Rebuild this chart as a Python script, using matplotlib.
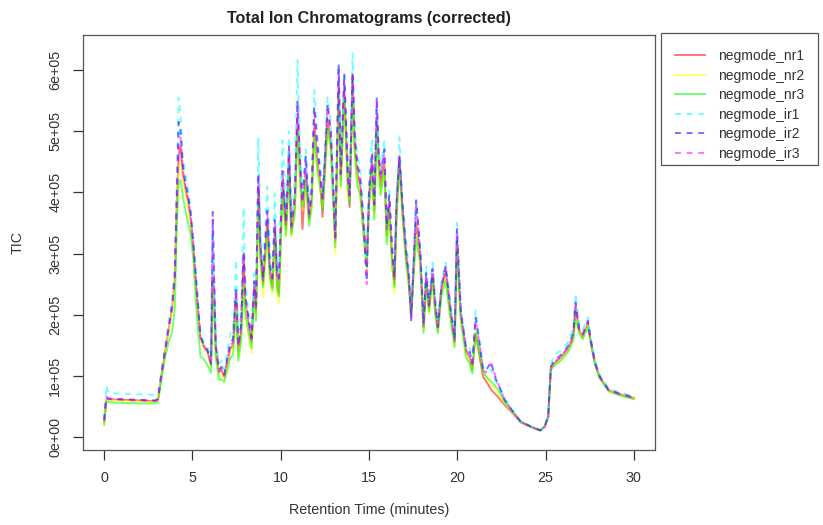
import matplotlib
matplotlib.use("Agg")
import matplotlib.pyplot as plt
from matplotlib.patches import Rectangle

plt.rcParams['font.family'] = ['Liberation Sans', 'DejaVu Sans']

rt = [0.00, 0.12, 0.25, 1.0, 2.0, 2.9, 3.05, 3.25, 3.45, 3.65, 3.85, 4.0, 4.12, 4.22, 4.32,
      4.45, 4.6, 4.75, 4.9, 5.05, 5.25, 5.45, 5.65, 5.85, 6.05, 6.15, 6.22, 6.32, 6.5, 6.65,
      6.8, 7.0, 7.15, 7.3, 7.47, 7.6, 7.75, 7.9, 8.0, 8.15, 8.35, 8.5, 8.6, 8.73, 8.85,
      9.0, 9.24, 9.38, 9.53, 9.66, 9.8, 9.9, 10.1, 10.3, 10.47, 10.6, 10.8, 10.95, 11.1, 11.23,
      11.42, 11.61, 11.75, 11.9, 12.08, 12.22, 12.37, 12.5, 12.65, 12.84, 13.09, 13.28, 13.4, 13.6, 13.8,
      13.9, 14.07, 14.2, 14.35, 14.5, 14.7, 14.87, 15.0, 15.17, 15.3, 15.44, 15.55, 15.66, 15.87, 16.0,
      16.15, 16.3, 16.44, 16.55, 16.72, 16.9, 17.1, 17.25, 17.39, 17.55, 17.67, 17.9, 18.09, 18.24, 18.4,
      18.6, 18.75, 18.9, 19.1, 19.34, 19.6, 19.85, 19.98, 20.2, 20.5, 20.7, 20.85, 21.04, 21.3, 21.46,
      21.6, 21.93, 22.1, 22.3, 22.7, 23.2, 23.6, 24.2, 24.7, 24.95, 25.15, 25.3, 25.5, 25.9, 26.3,
      26.57, 26.7, 26.9, 27.1, 27.4, 27.55, 27.8, 28.07, 28.56, 29.1, 29.6, 30.0]

# TIC values in units of 1e5
negmode_nr1 = [0.25, 0.62, 0.62, 0.61, 0.60, 0.59, 0.62, 1.02, 1.40, 1.75, 2.10, 2.60, 3.90, 4.62, 4.75,
               4.30, 4.05, 3.85, 3.55, 3.10, 2.30, 1.62, 1.48, 1.40, 1.18, 2.60, 2.30, 1.45, 1.05, 1.10,
               0.98, 1.25, 1.45, 1.50, 2.30, 1.40, 1.70, 2.95, 2.20, 1.90, 1.55, 2.45, 2.05, 4.10, 3.00,
               2.50, 3.55, 2.70, 2.45, 3.40, 2.50, 2.35, 4.15, 3.40, 4.55, 3.35, 3.80, 5.20, 4.30, 3.40,
               4.30, 3.55, 3.90, 5.10, 4.50, 4.20, 3.60, 4.40, 5.20, 4.80, 3.20, 5.80, 4.20, 5.70, 4.20,
               3.76, 5.90, 4.70, 4.30, 4.10, 3.40, 3.00, 3.85, 4.50, 3.70, 5.20, 4.50, 4.10, 4.50, 3.30,
               3.80, 3.00, 2.50, 3.60, 4.60, 3.70, 2.95, 2.60, 2.00, 2.90, 3.50, 2.95, 1.80, 2.60, 2.10,
               2.65, 2.10, 1.75, 2.40, 2.70, 2.05, 1.55, 3.20, 2.00, 1.40, 1.30, 1.10, 1.70, 1.26, 0.98,
               0.93, 0.77, 0.72, 0.66, 0.52, 0.37, 0.24, 0.16, 0.11, 0.17, 0.33, 1.12, 1.20, 1.31, 1.45,
               1.63, 2.12, 1.75, 1.64, 1.86, 1.58, 1.21, 0.98, 0.77, 0.71, 0.67, 0.64]
negmode_nr2 = [0.22, 0.60, 0.60, 0.59, 0.58, 0.57, 0.60, 1.00, 1.38, 1.70, 2.05, 2.50, 3.75, 4.40, 4.50,
               4.20, 3.95, 3.75, 3.45, 3.05, 2.25, 1.58, 1.45, 1.35, 1.15, 2.40, 2.20, 1.40, 1.00, 1.02,
               0.95, 1.20, 1.40, 1.45, 2.15, 1.30, 1.60, 2.60, 2.10, 1.70, 1.37, 2.30, 1.95, 3.80, 2.80,
               2.29, 3.30, 2.55, 2.35, 3.20, 2.30, 2.19, 3.90, 3.27, 4.30, 3.27, 3.70, 4.90, 4.10, 3.70,
               4.15, 3.50, 3.80, 4.90, 4.40, 4.05, 3.76, 4.25, 5.00, 4.65, 3.00, 5.60, 4.05, 5.50, 3.90,
               3.90, 5.60, 4.55, 4.15, 4.00, 3.30, 2.70, 3.70, 4.30, 3.60, 5.00, 4.30, 4.00, 4.35, 3.20,
               3.65, 2.90, 2.35, 3.45, 4.40, 3.55, 2.90, 2.45, 1.95, 2.80, 3.30, 2.80, 1.75, 2.50, 2.00,
               2.55, 2.05, 1.72, 2.35, 2.60, 2.00, 1.50, 3.10, 1.95, 1.35, 1.25, 1.08, 1.75, 1.35, 1.05,
               1.00, 0.85, 0.80, 0.72, 0.55, 0.38, 0.25, 0.17, 0.11, 0.17, 0.33, 1.10, 1.18, 1.28, 1.42,
               1.60, 2.00, 1.72, 1.62, 1.82, 1.55, 1.18, 0.96, 0.76, 0.70, 0.66, 0.63]
negmode_nr3 = [0.20, 0.58, 0.57, 0.56, 0.55, 0.55, 0.58, 0.95, 1.30, 1.55, 1.72, 2.10, 3.50, 4.15, 4.20,
               3.95, 3.70, 3.50, 3.30, 2.90, 1.95, 1.32, 1.27, 1.18, 1.05, 2.30, 2.10, 1.30, 0.93, 0.95,
               0.90, 1.12, 1.30, 1.35, 2.05, 1.25, 1.55, 2.50, 2.00, 1.75, 1.45, 2.35, 1.90, 3.90, 2.90,
               2.45, 3.40, 2.60, 2.40, 3.30, 2.40, 2.30, 4.00, 3.30, 4.40, 3.30, 3.65, 5.00, 4.20, 3.75,
               4.20, 3.45, 3.75, 4.95, 4.35, 4.10, 3.70, 4.30, 5.05, 4.70, 3.10, 5.65, 4.10, 5.55, 4.10,
               3.80, 5.50, 4.60, 4.10, 3.95, 3.25, 2.80, 3.75, 4.35, 3.55, 5.05, 4.35, 3.95, 4.40, 3.15,
               3.70, 2.80, 2.45, 3.50, 4.45, 3.60, 2.84, 2.50, 1.98, 2.75, 3.25, 2.85, 1.70, 2.50, 2.05,
               2.60, 2.00, 1.70, 2.30, 2.55, 1.95, 1.47, 3.05, 1.90, 1.30, 1.20, 1.04, 1.70, 1.30, 1.05,
               1.00, 0.90, 0.85, 0.78, 0.57, 0.39, 0.25, 0.17, 0.11, 0.17, 0.33, 1.10, 1.17, 1.26, 1.40,
               1.58, 1.95, 1.70, 1.60, 1.80, 1.55, 1.18, 0.96, 0.75, 0.69, 0.65, 0.62]
negmode_ir1 = [0.30, 0.85, 0.72, 0.71, 0.70, 0.69, 0.72, 1.10, 1.50, 1.90, 2.25, 2.80, 4.30, 5.55, 5.30,
               4.60, 4.30, 4.05, 3.75, 3.25, 2.45, 1.70, 1.55, 1.48, 1.25, 3.40, 2.60, 1.60, 1.20, 1.25,
               1.10, 1.45, 1.70, 1.80, 2.90, 1.70, 2.00, 3.76, 2.50, 2.10, 1.75, 2.68, 2.30, 4.90, 3.40,
               2.75, 4.09, 3.00, 2.70, 3.98, 2.85, 2.70, 4.85, 3.70, 5.00, 3.60, 4.20, 6.16, 4.70, 4.00,
               4.70, 3.85, 4.20, 5.67, 4.90, 4.50, 4.05, 4.75, 5.55, 5.10, 3.40, 6.05, 4.50, 5.90, 4.45,
               4.10, 6.27, 5.00, 4.60, 4.40, 3.60, 2.90, 4.20, 4.85, 3.95, 5.45, 4.75, 4.40, 4.85, 3.55,
               4.05, 3.20, 2.75, 3.95, 4.90, 3.90, 3.20, 2.80, 2.05, 3.10, 3.85, 3.15, 1.95, 2.80, 2.25,
               2.85, 2.30, 1.90, 2.55, 2.85, 2.20, 1.65, 3.50, 2.10, 1.50, 1.45, 1.25, 2.07, 1.50, 1.15,
               1.10, 1.10, 0.95, 0.85, 0.62, 0.41, 0.26, 0.17, 0.12, 0.18, 0.35, 1.18, 1.35, 1.42, 1.56,
               1.80, 2.35, 1.85, 1.75, 1.96, 1.65, 1.25, 1.02, 0.80, 0.74, 0.70, 0.67]
negmode_ir2 = [0.28, 0.66, 0.63, 0.62, 0.61, 0.60, 0.63, 1.05, 1.42, 1.80, 2.15, 2.65, 4.05, 5.15, 5.00,
               4.45, 4.15, 3.95, 3.65, 3.15, 2.40, 1.65, 1.50, 1.42, 1.20, 3.68, 2.70, 1.50, 1.10, 1.15,
               1.02, 1.32, 1.55, 1.60, 2.45, 1.50, 1.80, 3.05, 2.30, 2.00, 1.62, 2.55, 2.15, 4.30, 3.15,
               2.60, 3.70, 2.80, 2.60, 3.55, 2.65, 2.60, 4.35, 3.50, 4.75, 3.45, 3.95, 5.50, 4.50, 3.85,
               4.58, 3.65, 4.00, 5.40, 4.75, 4.35, 3.90, 4.55, 5.45, 5.00, 3.27, 6.10, 4.30, 5.94, 4.30,
               3.95, 5.95, 4.85, 4.45, 4.25, 3.45, 2.55, 4.00, 4.65, 3.80, 5.56, 4.60, 4.30, 4.70, 3.45,
               3.95, 3.10, 2.60, 3.80, 4.58, 3.80, 3.05, 2.65, 1.91, 3.00, 3.87, 3.06, 1.85, 2.68, 2.15,
               2.75, 2.20, 1.80, 2.45, 2.80, 2.15, 1.60, 3.40, 2.05, 1.45, 1.40, 1.20, 1.95, 1.45, 1.10,
               1.08, 1.23, 1.00, 0.88, 0.60, 0.40, 0.25, 0.17, 0.11, 0.17, 0.34, 1.15, 1.25, 1.35, 1.50,
               1.70, 2.20, 1.78, 1.68, 1.90, 1.60, 1.22, 0.99, 0.78, 0.72, 0.68, 0.65]
negmode_ir3 = [0.27, 0.64, 0.62, 0.61, 0.60, 0.59, 0.62, 1.03, 1.40, 1.78, 2.12, 2.60, 3.95, 4.80, 4.90,
               4.40, 4.10, 3.90, 3.60, 3.12, 2.35, 1.62, 1.48, 1.40, 1.18, 3.55, 2.60, 1.50, 1.08, 1.12,
               1.00, 1.30, 1.50, 1.55, 2.40, 1.45, 1.75, 3.00, 2.25, 1.95, 1.60, 2.50, 2.10, 4.25, 3.10,
               2.56, 3.66, 2.75, 2.55, 3.50, 2.60, 2.55, 4.30, 3.45, 4.70, 3.40, 3.90, 5.40, 4.40, 3.82,
               4.50, 3.60, 3.95, 5.30, 4.70, 4.30, 3.85, 4.50, 5.40, 4.95, 3.25, 6.00, 4.30, 5.85, 4.30,
               3.90, 5.90, 4.85, 4.40, 4.20, 3.45, 2.50, 3.95, 4.60, 3.75, 5.50, 4.55, 4.25, 4.65, 3.40,
               3.90, 3.05, 2.55, 3.75, 4.58, 3.75, 3.00, 2.60, 1.91, 2.95, 3.85, 3.00, 1.82, 2.65, 2.13,
               2.73, 2.15, 1.78, 2.45, 2.78, 2.13, 1.58, 3.38, 2.02, 1.42, 1.35, 1.15, 1.91, 1.45, 1.10,
               1.05, 1.20, 1.05, 0.88, 0.60, 0.40, 0.25, 0.17, 0.11, 0.17, 0.33, 1.15, 1.22, 1.33, 1.48,
               1.66, 2.15, 1.76, 1.66, 1.88, 1.58, 1.21, 0.98, 0.77, 0.71, 0.67, 0.64]

sample_names = ["negmode_nr1", "negmode_nr2", "negmode_nr3", "negmode_ir1", "negmode_ir2", "negmode_ir3"]
series = [negmode_nr1, negmode_nr2, negmode_nr3, negmode_ir1, negmode_ir2, negmode_ir3]
colors = ["#FF0000", "#FFFF00", "#00FF00", "#00FFFF", "#0000FF", "#FF00FF"]
styles = ["solid", "solid", "solid", "dashed", "dashed", "dashed"]
xticks = [0, 5, 10, 15, 20, 25, 30]
yticks = [0, 1e5, 2e5, 3e5, 4e5, 5e5, 6e5]
ytick_labels = ["0e+00", "1e+05", "2e+05", "3e+05", "4e+05", "5e+05", "6e+05"]

W, H = 823, 525
fig = plt.figure(figsize=(W / 100, H / 100), dpi=100)
ax = fig.add_axes([83 / W, 1 - 450 / H, (655 - 83) / W, (450 - 35) / H])

for name, vals, c, ls in zip(sample_names, series, colors, styles):
    kw = dict(color=c, alpha=0.55, lw=1.4, label=name)
    if ls == "dashed":
        kw["dashes"] = (3, 3)
    ax.plot(rt, [v * 1e5 for v in vals], **kw)

ax.set_xlim(-1.2, 31.2)
ax.set_ylim(-0.21e5, 6.57e5)
ax.set_xticks(xticks)
ax.set_xticklabels([str(t) for t in xticks])
ax.set_yticks(yticks)
ax.set_yticklabels(ytick_labels, rotation=90, va="center")
ax.tick_params(direction="out", length=7, width=0.9, colors="#333333", labelsize=10.3,
               labelcolor="#333333")
ax.tick_params(axis="x", pad=8)
ax.tick_params(axis="y", pad=8)
for s in ax.spines.values():
    s.set_color("#555555")
    s.set_linewidth(0.9)

fig.text((83 + 655) / 2 / W, 1 - 18 / H, "Total Ion Chromatograms (corrected)", ha="center",
         va="center", fontsize=11.6, fontweight="bold", color="#222222")
fig.text((83 + 655) / 2 / W, 1 - 510 / H, "Retention Time (minutes)", ha="center", va="center",
         fontsize=10.3, color="#333333")
fig.text(18 / W, 1 - 242 / H, "TIC", ha="center", va="center", rotation=90, fontsize=10.3,
         color="#333333")

# legend frame drawn separately (R-style asymmetric padding)
fig.patches.append(Rectangle((661 / W, 1 - 165 / H), (818 - 661) / W, (165 - 33) / H,
                             transform=fig.transFigure, fill=False, edgecolor="#555555",
                             linewidth=0.9))
leg = fig.legend(loc="upper left", bbox_to_anchor=(675 / W, 1 - 49 / H), fontsize=10,
                 frameon=False, handlelength=2.15, handletextpad=0.93,
                 labelspacing=0.4, borderpad=0, borderaxespad=0)
for t in leg.get_texts():
    t.set_color("#333333")

fig.savefig("out.png", dpi=100)
